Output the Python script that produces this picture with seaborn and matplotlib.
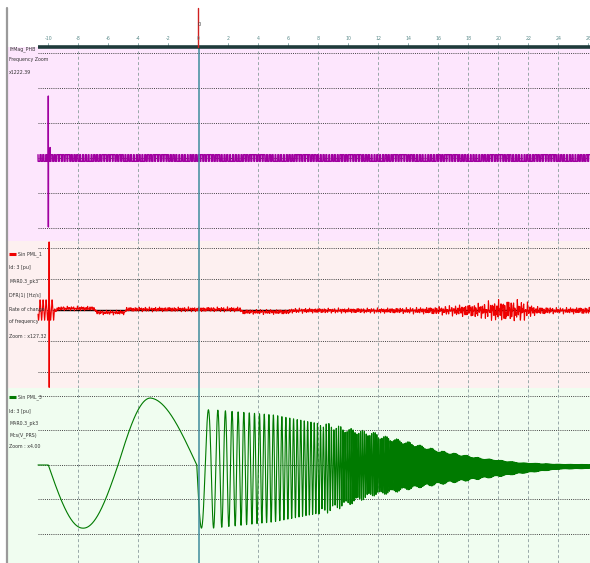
import numpy as np
import pandas as pd
import matplotlib
matplotlib.use("Agg")
import matplotlib.pyplot as plt
import seaborn as sns
from matplotlib.lines import Line2D

sns.set_theme(style="white")
plt.rcParams['font.family'] = ['DejaVu Sans']

# ---------------- data ----------------
time_ticks = list(range(-10, 27, 2))
vgrid_times = [-8, -4, 4, 8, 12, 16, 18, 20, 22, 24]

panel1_labels = ["FrMag_PHB", "Frequency Zoom", "x1222.39"]
panel2_labels = ["Sin PML_1", "Id: 3 [pu]", "MAR0.3_pk3", "DFR(1) [Hz/s]",
                 "Rate of change", "of frequency", "Zoom : x127.32"]
panel3_labels = ["Sin PML_3", "Id: 3 [pu]", "MAR0.3_pk3", "Mcs(V_PRS)", "Zoom : x4.00"]

# panel 1 (frequency): square-ish band and the spike at t=-10
freq_band_half = 0.095
freq_spike = [1.77, -1.97]

# panel 2 (rate of change of frequency)
rocof_spike = [2.2, -2.5]
rocof_burst_amp = 0.33
rocof_off_t = [-10.7, -9.5, -9.2, -6.9, -6.8, -4.9, -4.8, 2.8, 2.9, 6.1, 6.2, 26.2]
rocof_off_v = [0.0, 0.0, 0.05, 0.05, -0.08, -0.08, 0.02, 0.02, -0.06, -0.06, -0.02, -0.02]
rocof_noise_t = [-9.5, 12.0, 15.0, 17.0, 19.0, 20.0, 21.5, 22.5, 24.0, 26.2]
rocof_noise_a = [0.06, 0.07, 0.09, 0.14, 0.22, 0.3, 0.3, 0.12, 0.08, 0.1]

# panel 3 (voltage magnitude): slow swing before 0, then decaying chirp
slow_ext_t = [-10.0, -7.7, -5.35, -3.2, -0.1]
slow_ext_a = [1.83, 1.83, 1.9, 1.94, 1.83]
chirp_f_t = [-0.1, 0.5, 1.2, 2.5, 5.0, 8.0, 10.0, 14.0, 20.0, 26.2]
chirp_f_v = [0.7, 1.1, 1.8, 2.5, 3.4, 4.8, 7.5, 10.0, 13.0, 16.0]
env_t = [-0.1, 1.0, 5.0, 8.0, 10.0, 12.0, 14.0, 16.1, 18.8, 21.5, 24.0, 26.2]
env_up = [1.6, 1.6, 1.45, 1.2, 1.0, 0.87, 0.67, 0.43, 0.23, 0.1, 0.06, 0.05]
env_lo = [1.83, 1.83, 1.65, 1.4, 1.1, 0.8, 0.64, 0.5, 0.35, 0.2, 0.08, 0.06]

# ---------------- layout ----------------
W, H = 590, 563
fig = plt.figure(figsize=(W / 100, H / 100), dpi=100)
fig.patch.set_facecolor("white")
X0_PX, PX_PER = 198.3, 15.0
xmin = (8 - X0_PX) / PX_PER
xmax = (590 - X0_PX) / PX_PER
xstart = (38 - X0_PX) / PX_PER

def add_panel(top, bottom, ylim, color):
    ax = fig.add_axes([8 / W, 1 - bottom / H, 582 / W, (bottom - top) / H])
    ax.set_xlim(xmin, xmax)
    ax.set_ylim(*ylim)
    ax.set_facecolor(color)
    for s in ax.spines.values():
        s.set_visible(False)
    ax.set_xticks([]); ax.set_yticks([])
    ax.set_xlabel(""); ax.set_ylabel("")
    return ax

panels = [
    (47, 241, (-2.37, 3.17), "#fde6fd", range(-2, 4)),
    (241, 388, (-2.52, 2.23), "#fdf0f0", range(-2, 3)),
    (388, 563, (-2.84, 2.23), "#f0fdf0", range(-2, 3)),
]
axes = []
for top, bot, yl, col, gl in panels:
    ax = add_panel(top, bot, yl, col)
    for g in gl:
        ax.hlines(g, xstart, xmax, colors="#444444", linestyles=(0, (1, 1.2)), linewidth=0.7, zorder=1)
    for v in vgrid_times:
        ax.axvline(v, color="#98a8a8", linestyle=(0, (3, 2.5)), linewidth=0.7, zorder=1)
    ax.axvline(0.05, color="#3f8c9c", linewidth=1.1, zorder=5)
    axes.append(ax)

# ---------------- signals ----------------
dt = 0.004
t = np.arange(xstart, xmax, dt)

# panel 1
sq = np.sign(np.sin(2 * np.pi * 5.3 * t) + 0.45 * np.sin(2 * np.pi * 0.31 * t + 0.4)
             + 0.3 * np.sin(2 * np.pi * 1.7 * t))
f1 = freq_band_half * sq
i0 = np.searchsorted(t, -10.0)
f1[i0] = freq_spike[0]; f1[i0 + 1] = freq_spike[1]
i1 = np.searchsorted(t, -9.88)
f1[i1] = 0.3
sns.lineplot(x=t, y=f1, ax=axes[0], color="#a000a0", linewidth=1.0, estimator=None, sort=False, zorder=3)

# panel 2
off = np.interp(t, rocof_off_t, rocof_off_v)
amp = np.interp(t, rocof_noise_t, rocof_noise_a)
noise = amp * (0.55 * np.sin(2 * np.pi * 7.3 * t) + 0.35 * np.sin(2 * np.pi * 11.9 * t + 0.7)
               + 0.3 * np.sin(2 * np.pi * 3.1 * t + 1.3) + 0.2 * np.sin(2 * np.pi * 17.7 * t))
r = off + noise
burst = t < -9.6
r[burst] = rocof_burst_amp * np.sin(2 * np.pi * 5.0 * t[burst])
j0 = np.searchsorted(t, -9.95)
r[j0] = rocof_spike[0]; r[j0 + 1] = rocof_spike[1]
axes[1].hlines(0, -9.7, xmax, colors="black", linewidth=1.0, zorder=2)
sns.lineplot(x=t, y=r, ax=axes[1], color="#ee0000", linewidth=0.8, estimator=None, sort=False, zorder=3)

# panel 3
g = np.zeros_like(t)
m_slow = (t >= -10.0) & (t < -0.1)
ph_slow = np.interp(t[m_slow], slow_ext_t, np.arange(len(slow_ext_t)) * np.pi / 2)
a_slow = np.interp(t[m_slow], slow_ext_t, slow_ext_a)
g[m_slow] = -a_slow * np.sin(ph_slow)
m_ch = t >= -0.1
tc = t[m_ch]
fc = np.interp(tc, chirp_f_t, chirp_f_v)
ph = 2 * np.pi * np.cumsum(fc) * dt
s = -np.sin(ph)
eu = np.interp(tc, env_t, env_up)
el = np.interp(tc, env_t, env_lo)
wob = 1 + 0.07 * np.sin(2 * np.pi * 1.3 * tc) * (tc > 8)
g[m_ch] = np.where(s > 0, eu * s, el * s) * wob - 0.04 * (tc > 12)
sns.lineplot(x=t, y=g, ax=axes[2], color="#007a00", linewidth=0.8, estimator=None, sort=False, zorder=3)

for ax in axes:
    ax.set_xlim(xmin, xmax)
    ax.set_xlabel(""); ax.set_ylabel("")
    if ax.get_legend():
        ax.get_legend().remove()

# ---------------- panel texts ----------------
def px_text(ax, top, bot, xpx, ypx, s):
    ax.text((xpx - 8) / 582, (bot - ypx) / (bot - top), s, transform=ax.transAxes,
            fontsize=3.8, color="#333333", va="center", ha="left", fontstretch="condensed", zorder=6)

for k, s in enumerate(panel1_labels):
    px_text(axes[0], 47, 241, 9, [49, 60, 72][k], s)
ys2 = [254, 268, 281, 295, 309, 322, 336]
for k, s in enumerate(panel2_labels):
    px_text(axes[1], 241, 388, 18 if k == 0 else 9, ys2[k], s)
ys3 = [397, 411, 423, 435, 447]
for k, s in enumerate(panel3_labels):
    px_text(axes[2], 388, 563, 18 if k == 0 else 9, ys3[k], s)
for ax, top, bot, ypx, col in [(axes[1], 241, 388, 254, "#ee0000"), (axes[2], 388, 563, 397, "#007a00")]:
    yy = (bot - ypx) / (bot - top)
    ax.plot([(9 - 8) / 582, (16 - 8) / 582], [yy, yy], transform=ax.transAxes, color=col, linewidth=2.2,
            solid_capstyle="butt", zorder=6)

# ---------------- top time axis ----------------
axt = fig.add_axes([8 / W, 1 - 48 / H, 582 / W, 40 / H])
axt.set_xlim(xmin, xmax); axt.set_ylim(0, 1)
axt.axis("off")
for tk in time_ticks:
    axt.text(tk, 0.25, str(tk), fontsize=3.8, color="#5e8c8c", ha="center", va="center", fontstretch="condensed")
    axt.plot([tk, tk], [0.03, 0.12], color="#5e8c8c", linewidth=0.5)
axt.plot([xstart, xmax], [0.02, 0.02], color="#1f3b3b", linewidth=2.6, solid_capstyle="butt", clip_on=False)
axt.plot([0, 0], [0.02, 1.0], color="#d02020", linewidth=1.0, clip_on=False)
axt.text(0.05, 0.6, "0", fontsize=3.8, color="#444444", ha="center", va="center")

# left frame border
fig.add_artist(Line2D([6.5 / W, 6.5 / W], [0, 1 - 8 / H], color="#9a9a9a", linewidth=1.6))

fig.savefig("out.png", dpi=100)
